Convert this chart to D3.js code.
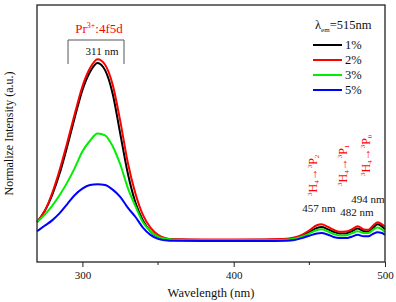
<!DOCTYPE html>
<html>
<head>
<meta charset="utf-8">
<script src="https://cdn.jsdelivr.net/npm/d3@7"></script>
</head>
<body style="margin:0; background:#fff">
<div id="viz"></div>
<script>
const margin = {top: 5, right: 11, bottom: 40, left: 37};
const width = 396;
const height = 302;

// wavelengths (nm) and normalized intensity per concentration
const wavelengths = [270, 275, 280, 285, 290, 295, 300, 305, 310, 315, 320, 325, 330, 335, 340, 345, 350, 355, 360, 380, 400, 420, 435, 440, 445, 450, 455, 458, 462, 466, 470, 474, 478, 482, 486, 489, 492, 495, 498, 500];
const pct1 = [0.10, 0.16, 0.25, 0.37, 0.52, 0.68, 0.83, 0.93, 0.98, 0.94, 0.81, 0.59, 0.37, 0.21, 0.11, 0.05, 0.02, 0.008, 0.004, 0.002, 0.002, 0.003, 0.006, 0.012, 0.025, 0.045, 0.068, 0.073, 0.062, 0.047, 0.038, 0.038, 0.05, 0.065, 0.05, 0.048, 0.068, 0.088, 0.076, 0.06];
const pct2 = [0.10, 0.16, 0.26, 0.39, 0.54, 0.70, 0.85, 0.95, 1.0, 0.97, 0.86, 0.66, 0.43, 0.26, 0.14, 0.07, 0.03, 0.012, 0.006, 0.004, 0.004, 0.005, 0.008, 0.015, 0.03, 0.055, 0.083, 0.088, 0.075, 0.058, 0.047, 0.048, 0.06, 0.077, 0.06, 0.058, 0.08, 0.10, 0.088, 0.073];
const pct3 = [0.10, 0.14, 0.19, 0.25, 0.32, 0.40, 0.49, 0.55, 0.59, 0.58, 0.52, 0.42, 0.29, 0.19, 0.10, 0.05, 0.02, 0.008, 0.003, 0.0, 0.0, 0.0, 0.003, 0.008, 0.02, 0.038, 0.057, 0.061, 0.05, 0.035, 0.027, 0.027, 0.038, 0.05, 0.04, 0.04, 0.057, 0.07, 0.06, 0.045];
const pct5 = [0.05, 0.08, 0.11, 0.15, 0.20, 0.25, 0.285, 0.305, 0.31, 0.305, 0.28, 0.24, 0.18, 0.13, 0.07, 0.03, 0.008, 0.0, -0.003, -0.004, -0.004, -0.004, -0.002, 0.002, 0.012, 0.025, 0.038, 0.04, 0.032, 0.018, 0.012, 0.012, 0.02, 0.03, 0.022, 0.022, 0.035, 0.045, 0.04, 0.03];

const seriesNames = ['1%', '2%', '3%', '5%'];
const seriesColors = ['#000000', '#ff0000', '#00ee00', '#0000ff'];
const seriesData = [pct1, pct2, pct3, pct5];

const xTicks = [300, 400, 500];
const xMinorTicks = [350, 450];

// peak annotations
const peakLabels = ['457 nm', '482 nm', '494 nm'];
const transitions = ['2', '1', '0'];

const svg = d3.select('#viz')
  .append('svg')
  .attr('width', width)
  .attr('height', height);

const x = d3.scaleLinear()
  .domain([270, 500])
  .range([margin.left, width - margin.right]);

const y = d3.scaleLinear()
  .domain([-0.12, 1.3])
  .range([height - margin.bottom, margin.top]);

const line = d3.line()
  .x((d, i) => x(wavelengths[i]))
  .y(d => y(d))
  .curve(d3.curveMonotoneX);

// curves
svg.append('g')
  .selectAll('path')
  .data(seriesData)
  .join('path')
    .attr('d', d => line(d))
    .attr('fill', 'none')
    .attr('stroke', (d, i) => seriesColors[i])
    .attr('stroke-width', 2);

// frame
svg.append('rect')
  .attr('x', margin.left)
  .attr('y', margin.top)
  .attr('width', width - margin.left - margin.right)
  .attr('height', height - margin.top - margin.bottom)
  .attr('fill', 'none')
  .attr('stroke', '#222')
  .attr('stroke-width', 1.3);

// x axis
const xAxis = svg.append('g')
  .attr('transform', `translate(0, ${height - margin.bottom})`)
  .call(d3.axisBottom(x).tickValues(xTicks).tickSize(5).tickPadding(4));
xAxis.select('.domain').remove();
xAxis.selectAll('text').attr('fill', '#111').attr('font-size', 11);
xAxis.selectAll('line').attr('stroke', '#222');

svg.append('g')
  .attr('transform', `translate(0, ${height - margin.bottom})`)
  .selectAll('line')
  .data(xMinorTicks)
  .join('line')
    .attr('x1', d => x(d))
    .attr('x2', d => x(d))
    .attr('y1', 0)
    .attr('y2', 3)
    .attr('stroke', '#222');

// axis titles
svg.append('text')
  .attr('x', x(385))
  .attr('y', 297)
  .attr('text-anchor', 'middle')
  .attr('font-size', 12.5)
  .attr('fill', '#111')
  .text('Wavelength (nm)');

svg.append('text')
  .attr('transform', `translate(13, ${(margin.top + height - margin.bottom) / 2}) rotate(-90)`)
  .attr('text-anchor', 'middle')
  .attr('font-size', 12)
  .attr('fill', '#111')
  .text('Normalize Intensity (a.u.)');

// Pr3+ annotation
const prText = svg.append('text')
  .attr('x', x(311))
  .attr('y', 33)
  .attr('text-anchor', 'middle')
  .attr('font-size', 13)
  .attr('fill', '#ff0000');
prText.append('tspan').text('Pr');
prText.append('tspan').attr('font-size', 8).attr('dy', -5).text('3+');
prText.append('tspan').attr('dy', 5).text(':4f5d');

svg.append('path')
  .attr('d', `M${x(290.5)},64V40H${x(327.5)}V64`)
  .attr('fill', 'none')
  .attr('stroke', '#555')
  .attr('stroke-width', 1);

svg.append('text')
  .attr('x', x(313))
  .attr('y', 55)
  .attr('text-anchor', 'middle')
  .attr('font-size', 11)
  .attr('fill', '#111')
  .text('311 nm');

// legend
const legend = svg.append('g');
const legTitle = legend.append('text')
  .attr('x', 315)
  .attr('y', 29)
  .attr('font-size', 12.5)
  .attr('fill', '#111');
legTitle.append('tspan').text('λ');
legTitle.append('tspan').attr('font-size', 7).attr('dy', 3).text('em');
legTitle.append('tspan').attr('dy', -3).text('=515nm');

const legItems = legend.selectAll('g.item')
  .data(seriesNames)
  .join('g')
    .attr('class', 'item')
    .attr('transform', (d, i) => `translate(313, ${45 + i * 15})`);
legItems.append('line')
  .attr('x1', 0).attr('x2', 29)
  .attr('stroke', (d, i) => seriesColors[i])
  .attr('stroke-width', 2);
legItems.append('text')
  .attr('x', 32)
  .attr('y', 4)
  .attr('font-size', 12.5)
  .attr('fill', '#111')
  .text(d => d);

// transition labels (rotated)
const transPos = [[317, 196], [347, 186], [370, 176]];
transitions.forEach((t, i) => {
  const g = svg.append('text')
    .attr('transform', `translate(${transPos[i][0]}, ${transPos[i][1]}) rotate(-90)`)
    .attr('font-size', 12)
    .attr('fill', '#ff0000');
  g.append('tspan').attr('font-size', 7).attr('dy', -5).text('3');
  g.append('tspan').attr('dy', 5).text('H');
  g.append('tspan').attr('font-size', 7).attr('dy', 2).text('4');
  g.append('tspan').attr('dy', -2).text('→');
  g.append('tspan').attr('font-size', 7).attr('dy', -5).text('3');
  g.append('tspan').attr('dy', 5).text('P');
  g.append('tspan').attr('font-size', 7).attr('dy', 2).text(t);
});

// peak wavelength labels
const peakPos = [[319, 212], [357, 216], [368, 203]];
svg.selectAll('text.peak')
  .data(peakLabels)
  .join('text')
    .attr('class', 'peak')
    .attr('x', (d, i) => peakPos[i][0])
    .attr('y', (d, i) => peakPos[i][1])
    .attr('text-anchor', 'middle')
    .attr('font-size', 11)
    .attr('fill', '#111')
    .text(d => d);

// serif font everywhere
svg.selectAll('text').style('font-family', "'Liberation Serif'");
</script>
</body>
</html>
